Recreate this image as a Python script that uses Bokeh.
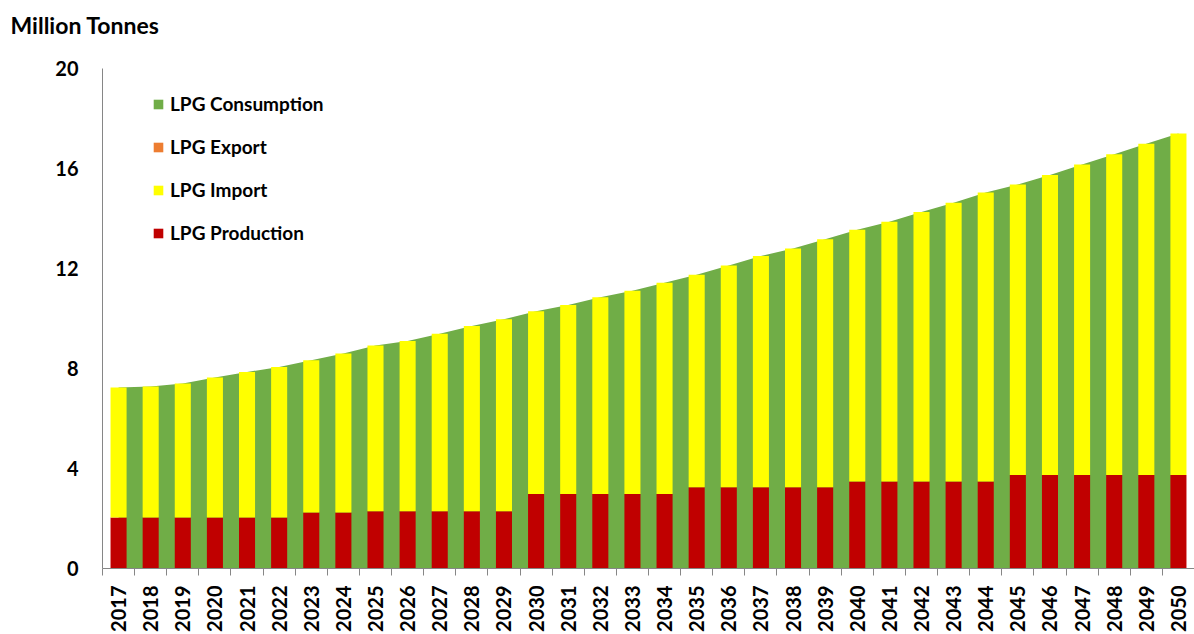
import math
from bokeh.plotting import figure
from bokeh.models import (ColumnDataSource, Legend, LegendItem, FixedTicker,
                          Range1d, Title)
from bokeh.embed import file_html
from bokeh.resources import INLINE

years = list(range(2017, 2051))
consumption = [7.24, 7.28, 7.40, 7.64, 7.86, 8.06, 8.33, 8.60, 8.92, 9.10,
               9.39, 9.70, 9.97, 10.29, 10.54, 10.85, 11.11, 11.43, 11.75, 12.12,
               12.50, 12.80, 13.17, 13.55, 13.87, 14.26, 14.63, 15.04, 15.36, 15.74,
               16.16, 16.57, 16.99, 17.40]
production = [2.04, 2.04, 2.04, 2.04, 2.04, 2.04, 2.24, 2.24, 2.29, 2.29,
              2.29, 2.29, 2.29, 2.98, 2.98, 2.98, 2.98, 2.98, 3.25, 3.25,
              3.25, 3.25, 3.25, 3.48, 3.48, 3.48, 3.48, 3.48, 3.74, 3.74,
              3.74, 3.74, 3.74, 3.74]
export = [0.0] * 34
lpg_import = [5.20, 5.24, 5.36, 5.60, 5.82, 6.02, 6.09, 6.36, 6.63, 6.81,
              7.10, 7.41, 7.68, 7.31, 7.56, 7.87, 8.13, 8.45, 8.50, 8.87,
              9.25, 9.55, 9.92, 10.07, 10.39, 10.78, 11.15, 11.56, 11.62, 12.00,
              12.42, 12.83, 13.25, 13.66]
y_ticks = [0, 4, 8, 12, 16, 20]

GREEN = "#70AD47"
ORANGE = "#ED7D31"
YELLOW = "#FFFF00"
RED = "#C00000"
AXIS = "#868686"
FONT = "Lato"

src = ColumnDataSource(dict(year=years, consumption=consumption,
                            production=production, export=export,
                            imp=lpg_import))

p = figure(width=1194, height=634, output_backend="svg", toolbar_location=None,
           x_range=Range1d(2016.5, 2050.5), y_range=Range1d(0, 20),
           min_border_left=102, min_border_right=0, min_border_bottom=65,
           min_border_top=10)
p.outline_line_color = None
p.grid.grid_line_color = None
p.background_fill_color = "white"
p.border_fill_color = "white"

area = p.varea(x="year", y1=0, y2="consumption", source=src,
               fill_color=GREEN)
r_stack = p.vbar_stack(["production", "export", "imp"], x="year", width=0.5,
                       color=[RED, ORANGE, YELLOW], line_color=None, source=src)

# axes
xa = p.xaxis[0]
xa.ticker = FixedTicker(ticks=years, minor_ticks=[y - 0.5 for y in years] + [2050.5])
xa.major_tick_line_color = None
xa.minor_tick_line_color = AXIS
xa.minor_tick_out = 7
xa.minor_tick_in = 0
xa.axis_line_color = AXIS
xa.major_label_orientation = math.pi / 2
xa.major_label_text_font = FONT
xa.major_label_text_font_style = "bold"
xa.major_label_text_font_size = "20px"
xa.major_label_text_color = "black"
xa.major_label_standoff = 10

ya = p.yaxis[0]
ya.ticker = FixedTicker(ticks=y_ticks)
ya.major_tick_line_color = None
ya.minor_tick_line_color = None
ya.axis_line_color = AXIS
ya.major_label_text_font = FONT
ya.major_label_text_font_style = "bold"
ya.major_label_text_font_size = "20px"
ya.major_label_text_color = "black"
ya.major_label_standoff = 18

title = Title(text="Million Tonnes", align="left", offset=-92,
              text_font=FONT, text_font_style="bold", text_font_size="23px",
              text_color="black", standoff=17,
              padding=dict(left=0, right=0, top=0, bottom=21))
p.add_layout(title, "above")

legend = Legend(items=[
    LegendItem(label="LPG Consumption", renderers=[area]),
    LegendItem(label="LPG Export", renderers=[r_stack[1]]),
    LegendItem(label="LPG Import", renderers=[r_stack[2]]),
    LegendItem(label="LPG Production", renderers=[r_stack[0]]),
], location=(50, 324), orientation="vertical",
    glyph_width=12, glyph_height=12, label_standoff=6, spacing=20,
    label_height=20, padding=0, margin=0,
    label_text_font=FONT, label_text_font_style="bold",
    label_text_font_size="19px", label_text_color="black",
    background_fill_alpha=0, border_line_color=None)
p.add_layout(legend, "center")

open("out.html", "w").write(file_html(p, INLINE))
